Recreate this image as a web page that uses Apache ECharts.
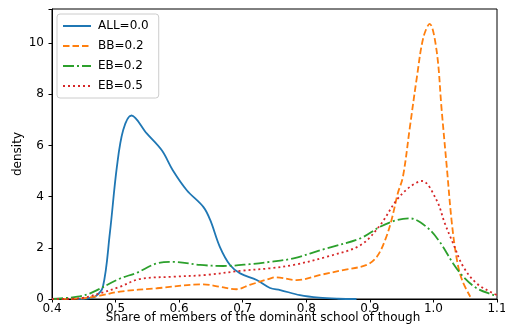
<!DOCTYPE html>
<html>
<head>
<meta charset="utf-8">
<script src="https://cdn.jsdelivr.net/npm/echarts@6/dist/echarts.min.js"></script>
<style>
  html, body { margin: 0; padding: 0; background: #fff; }
  #main { width: 505px; height: 331px; }
</style>
</head>
<body>
<div id="main"></div>
<script>
// values
const seriesNames = ['ALL=0.0', 'BB=0.2', 'EB=0.2', 'EB=0.5'];

const allX = [0.44, 0.455, 0.468, 0.48, 0.491, 0.502, 0.512, 0.525, 0.549, 0.573, 0.59, 0.612, 0.638, 0.649, 0.664, 0.68, 0.696, 0.722, 0.743, 0.759, 0.79, 0.82, 0.85, 0.879];
const allY = [0.0, 0.02, 0.1, 0.47, 2.57, 5.15, 6.6, 7.17, 6.47, 5.8, 5.03, 4.25, 3.6, 3.08, 2.04, 1.33, 1.0, 0.74, 0.43, 0.35, 0.15, 0.05, 0.01, 0.0];

const bbX = [0.4, 0.45, 0.475, 0.507, 0.565, 0.638, 0.664, 0.69, 0.711, 0.743, 0.751, 0.785, 0.822, 0.858, 0.895, 0.911, 0.924, 0.934, 0.944, 0.952, 0.963, 0.974, 0.984, 0.994, 1.005, 1.013, 1.021, 1.029, 1.037, 1.045, 1.058];
const bbY = [0.0, 0.03, 0.13, 0.29, 0.42, 0.57, 0.48, 0.38, 0.55, 0.8, 0.85, 0.74, 0.94, 1.13, 1.33, 1.65, 2.3, 3.08, 4.13, 4.77, 6.72, 8.67, 10.2, 10.75, 9.7, 7.37, 5.16, 2.96, 1.52, 0.74, 0.09];

const eb2X = [0.4, 0.413, 0.44, 0.46, 0.507, 0.533, 0.565, 0.591, 0.633, 0.669, 0.711, 0.743, 0.78, 0.832, 0.885, 0.916, 0.942, 0.963, 0.989, 1.01, 1.031, 1.047, 1.068, 1.094, 1.1];
const eb2Y = [0.0, 0.02, 0.09, 0.22, 0.8, 1.02, 1.39, 1.45, 1.33, 1.29, 1.36, 1.45, 1.59, 1.98, 2.37, 2.82, 3.08, 3.15, 2.82, 2.23, 1.39, 0.87, 0.42, 0.16, 0.12];

const eb5X = [0.4, 0.444, 0.475, 0.507, 0.538, 0.591, 0.643, 0.696, 0.743, 0.78, 0.832, 0.885, 0.916, 0.942, 0.963, 0.982, 1.005, 1.018, 1.031, 1.047, 1.068, 1.094, 1.1];
const eb5Y = [0.0, 0.03, 0.22, 0.48, 0.78, 0.87, 0.94, 1.1, 1.2, 1.33, 1.65, 2.1, 2.88, 3.86, 4.38, 4.61, 3.86, 2.95, 2.17, 1.26, 0.61, 0.22, 0.16];

const xTicks = [0.4, 0.5, 0.6, 0.7, 0.8, 0.9, 1.0, 1.1];
const yTicks = [0, 2, 4, 6, 8, 10];

function pairs(xs, ys) {
  return xs.map((x, i) => [x, ys[i]]);
}

const colors = ['#1f77b4', '#ff7f0e', '#2ca02c', '#d62728'];
const dashes = ['solid', [6.5, 3], [11, 3, 2, 3], [2, 3]];
const datas = [pairs(allX, allY), pairs(bbX, bbY), pairs(eb2X, eb2Y), pairs(eb5X, eb5Y)];

const font = 'DejaVu Sans';

let myChart = echarts.init(document.getElementById('main'));
let option = {
  animation: false,
  textStyle: { fontFamily: font },
  grid: {
    left: 52, right: 8, top: 9, bottom: 32,
    outerBoundsMode: 'none',
    show: true, borderColor: '#000', borderWidth: 1
  },
  legend: {
    left: 57, top: 14, orient: 'vertical',
    data: seriesNames,
    itemWidth: 28, itemHeight: 10, itemGap: 8,
    padding: [6, 10, 6, 5],
    itemStyle: { opacity: 0 },
    backgroundColor: '#fff', borderColor: '#ccc', borderWidth: 1, borderRadius: 3,
    textStyle: { fontFamily: font, fontSize: 12, color: '#000', padding: [0, 0, 0, 2] }
  },
  xAxis: {
    type: 'value', min: 0.4, max: 1.1, interval: 0.1,
    name: 'Share of members of the dominant school of though',
    nameLocation: 'middle', nameGap: 13, nameMoveOverlap: false,
    nameTextStyle: { fontFamily: font, fontSize: 12, color: '#000', padding: [0, 23, 0, 0] },
    axisLine: { lineStyle: { color: '#000' } },
    axisTick: { length: 3.5, lineStyle: { color: '#000' } },
    axisLabel: {
      margin: 4, fontSize: 12, color: '#000',
      formatter: v => xTicks.some(t => Math.abs(t - v) < 1e-6) ? v.toFixed(1) : ''
    },
    splitLine: { show: false }
  },
  yAxis: {
    type: 'value', min: 0, max: 11.33, interval: 2,
    name: 'density', nameLocation: 'middle', nameGap: 28, nameMoveOverlap: false,
    nameTextStyle: { fontFamily: font, fontSize: 12, color: '#000' },
    axisLine: { show: true, lineStyle: { color: '#000' } },
    axisTick: { show: true, length: 3.5, lineStyle: { color: '#000' } },
    axisLabel: {
      margin: 8, fontSize: 12, color: '#000',
      formatter: v => yTicks.indexOf(v) >= 0 ? String(v) : ''
    },
    splitLine: { show: false }
  },
  series: seriesNames.map((name, i) => ({
    name: name,
    type: 'line',
    data: datas[i],
    smooth: 0.35,
    symbol: 'none',
    clip: true,
    itemStyle: { color: colors[i] },
    lineStyle: { color: colors[i], width: 1.8, type: dashes[i] },
    z: 2 + i
  }))
};
myChart.setOption(option);
</script>
</body>
</html>
